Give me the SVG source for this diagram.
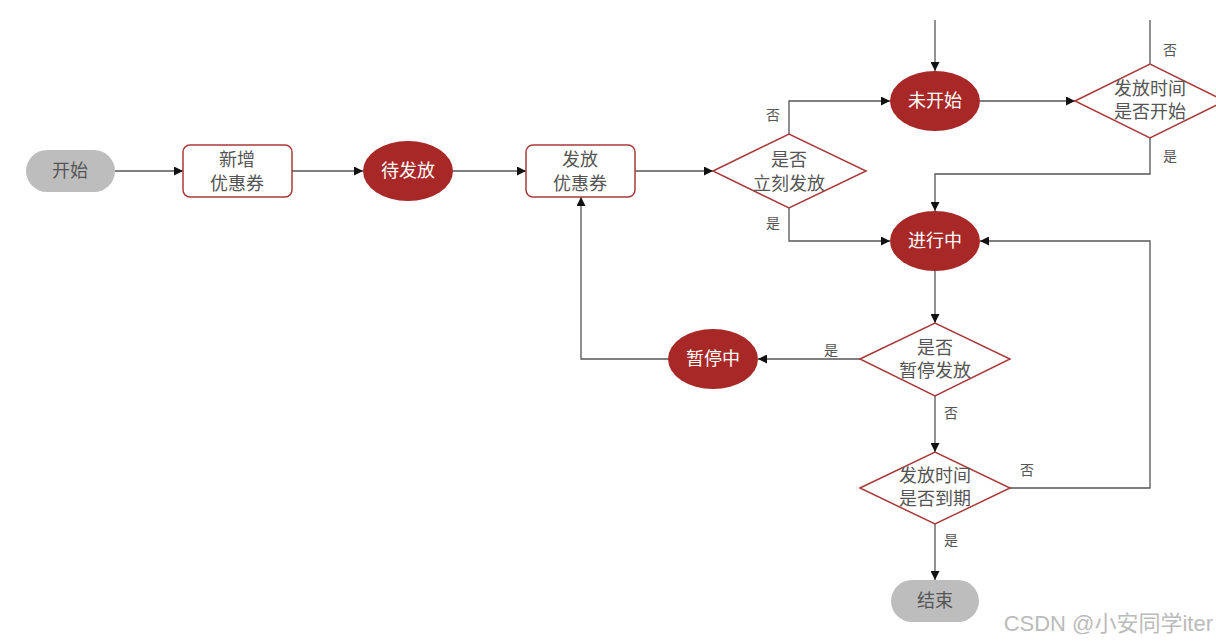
<svg xmlns="http://www.w3.org/2000/svg" width="1216" height="642" viewBox="0 0 1216 642">
<style>
.t{font-family:"Liberation Sans","Noto Sans CJK SC",sans-serif;font-size:18px;text-anchor:middle;fill:#555}
.w{fill:#fff}
.lbl{font-family:"Liberation Sans","Noto Sans CJK SC",sans-serif;font-size:14px;text-anchor:middle;fill:#555}
.box{fill:#fff;stroke:#a83a3a;stroke-width:1.5}
.red{fill:#a82828}
.pill{fill:#bdbdbd}
.c{fill:none;stroke:#555;stroke-width:1.3}
</style>
<defs>
<marker id="a" viewBox="0 0 10 10" refX="10" refY="5" markerWidth="9" markerHeight="9" markerUnits="userSpaceOnUse" orient="auto">
<path d="M0,0 L10,5 L0,10 z" fill="#111"/>
</marker>
</defs>
<rect width="1216" height="642" fill="#fff"/>
<g id="connectors">
<path class="c" d="M115,171 H183" marker-end="url(#a)"/>
<path class="c" d="M292,171 H363" marker-end="url(#a)"/>
<path class="c" d="M453,171 H526" marker-end="url(#a)"/>
<path class="c" d="M635,171 H713" marker-end="url(#a)"/>
<path class="c" d="M789,134 V101 H890" marker-end="url(#a)"/>
<path class="c" d="M789,208 V241 H890" marker-end="url(#a)"/>
<path class="c" d="M935,20 V71" marker-end="url(#a)"/>
<path class="c" d="M980,101 H1075" marker-end="url(#a)"/>
<path class="c" d="M1150,64 V20"/>
<path class="c" d="M1150,138 V174 H935 V211" marker-end="url(#a)"/>
<path class="c" d="M935,271 V323" marker-end="url(#a)"/>
<path class="c" d="M860,359 H758" marker-end="url(#a)"/>
<path class="c" d="M668,359 H581 V197" marker-end="url(#a)"/>
<path class="c" d="M935,396 V452" marker-end="url(#a)"/>
<path class="c" d="M1010,488 H1150 V241 H980" marker-end="url(#a)"/>
<path class="c" d="M935,524 V580" marker-end="url(#a)"/>
<text class="lbl" x="773" y="120">否</text>
<text class="lbl" x="773" y="228">是</text>
<text class="lbl" x="1170" y="55">否</text>
<text class="lbl" x="1170" y="161">是</text>
<text class="lbl" x="831" y="355">是</text>
<text class="lbl" x="951" y="418">否</text>
<text class="lbl" x="1027" y="475">否</text>
<text class="lbl" x="951" y="545">是</text>
</g>
<g id="start">
<rect class="pill" x="26" y="150" width="89" height="42" rx="21"/>
<text class="t" x="70" y="177">开始</text>
</g>
<g id="add">
<rect class="box" x="183" y="145" width="109" height="52" rx="7"/>
<text class="t" x="237" y="166">新增</text>
<text class="t" x="237" y="190">优惠券</text>
</g>
<g id="pending">
<ellipse class="red" cx="408" cy="171" rx="45" ry="30"/>
<text class="t w" x="408" y="177">待发放</text>
</g>
<g id="issue">
<rect class="box" x="526" y="145" width="109" height="52" rx="7"/>
<text class="t" x="580" y="166">发放</text>
<text class="t" x="580" y="190">优惠券</text>
</g>
<g id="d1">
<polygon class="box" points="713,171 789,134 866,171 789,208"/>
<text class="t" x="789" y="166">是否</text>
<text class="t" x="789" y="190">立刻发放</text>
</g>
<g id="notstarted">
<ellipse class="red" cx="935" cy="101" rx="45" ry="30"/>
<text class="t w" x="935" y="107">未开始</text>
</g>
<g id="d2">
<polygon class="box" points="1075,101 1150,64 1225,101 1150,138"/>
<text class="t" x="1150" y="95">发放时间</text>
<text class="t" x="1150" y="118">是否开始</text>
</g>
<g id="running">
<ellipse class="red" cx="935" cy="241" rx="45" ry="30"/>
<text class="t w" x="935" y="247">进行中</text>
</g>
<g id="d3">
<polygon class="box" points="860,359 935,323 1010,359 935,396"/>
<text class="t" x="935" y="354">是否</text>
<text class="t" x="935" y="377">暂停发放</text>
</g>
<g id="paused">
<ellipse class="red" cx="713" cy="359" rx="45" ry="30"/>
<text class="t w" x="713" y="365">暂停中</text>
</g>
<g id="d4">
<polygon class="box" points="860,488 935,452 1010,488 935,524"/>
<text class="t" x="935" y="482">发放时间</text>
<text class="t" x="935" y="505">是否到期</text>
</g>
<g id="end">
<rect class="pill" x="891" y="580" width="88" height="42" rx="21"/>
<text class="t" x="935" y="607">结束</text>
</g>
<text x="1213" y="631" style="font-family:'Liberation Sans','Noto Sans CJK SC',sans-serif;font-size:22px;text-anchor:end;fill:#bbb">CSDN @小安同学iter</text>
</svg>
